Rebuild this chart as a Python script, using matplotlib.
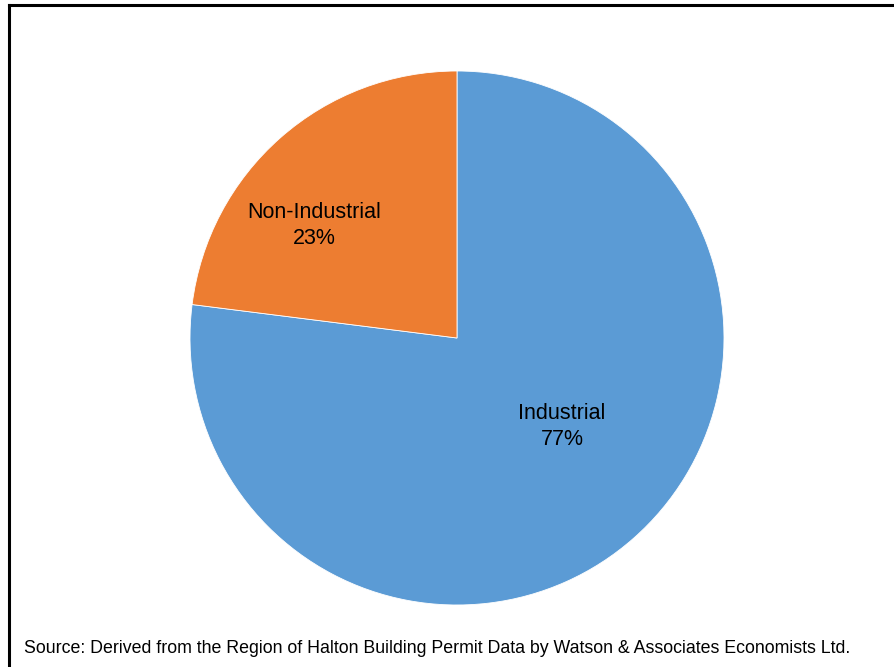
import matplotlib
matplotlib.use("Agg")
import matplotlib.pyplot as plt
from matplotlib.lines import Line2D

plt.rcParams['font.family'] = ['Liberation Sans', 'DejaVu Sans']

categories = ["Industrial", "Non-Industrial"]
shares = [77, 23]
colors = ["#5B9BD5", "#ED7D31"]
source_note = ("Source: Derived from the Region of Halton Building Permit Data "
               "by Watson & Associates Economists Ltd.")

W, H = 894, 667
fig = plt.figure(figsize=(W / 100, H / 100), dpi=100)

# pie axes: centre (457, 338) px, radius 267 px
cx, cy, r = 457, 338, 267
ax = fig.add_axes([(cx - r) / W, (H - cy - r) / H, 2 * r / W, 2 * r / H])

labels = [f"{c}\n{v}%" for c, v in zip(categories, shares)]
wedges, texts = ax.pie(shares, colors=colors, startangle=90, counterclock=False,
                       labels=labels, labeldistance=0.6,
                       wedgeprops=dict(edgecolor="white", linewidth=0.6),
                       textprops=dict(fontsize=15.5, color="black",
                                      ha="center", va="center",
                                      multialignment="center",
                                      linespacing=1.32))
# label placement inside each slice
label_pos = {"Industrial": (0.393, -0.33), "Non-Industrial": (-0.536, 0.42)}
for t, c in zip(texts, categories):
    t.set_position(label_pos[c])
    t.set_ha("center")
    t.set_va("center")
ax.set_xlim(-1, 1)
ax.set_ylim(-1, 1)
ax.set_aspect("equal")
ax.axis("off")

# chart frame (runs off the right and bottom edges)
lw = 2.2
fig.add_artist(Line2D([8.5 / W, 8.5 / W], [1 - 5 / H, -0.05],
                      transform=fig.transFigure, color="black", lw=lw,
                      solid_capstyle="projecting"))
fig.add_artist(Line2D([8.5 / W, 1.05], [1 - 5 / H, 1 - 5 / H],
                      transform=fig.transFigure, color="black", lw=lw,
                      solid_capstyle="projecting"))

fig.text(24 / W, 1 - 653 / H, source_note, fontsize=12.8, ha="left",
         va="baseline", color="black")

fig.savefig("out.png", dpi=100, facecolor="white")
